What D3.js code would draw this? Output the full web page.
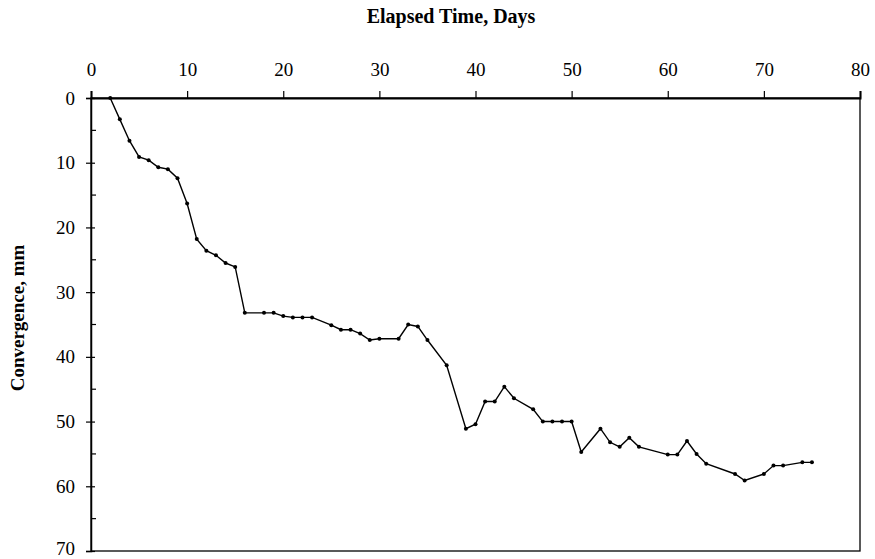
<!DOCTYPE html>
<html><head><meta charset="utf-8">
<script src="https://cdn.jsdelivr.net/npm/d3@7"></script>
<style>body{margin:0;background:#fff}svg{display:block}</style>
</head><body>
<script>
const days = [2,3,4,5,6,7,8,9,10,11,12,13,14,15,16,18,19,20,21,22,23,25,26,27,28,29,30,32,33,34,35,37,39,40,41,42,43,44,46,47,48,49,50,51,53,54,55,56,57,60,61,62,63,64,67,68,70,71,72,74,75];
const convergence = [0,3.3,6.6,9.1,9.6,10.7,11.0,12.4,16.3,21.8,23.6,24.3,25.5,26.1,33.2,33.2,33.2,33.7,33.9,33.9,33.9,35.1,35.8,35.8,36.4,37.4,37.2,37.2,35.0,35.3,37.4,41.3,51.1,50.4,46.9,46.9,44.6,46.4,48.1,50.0,50.0,50.0,50.0,54.7,51.1,53.2,53.9,52.5,53.9,55.1,55.1,53.0,55.0,56.5,58.1,59.1,58.1,56.8,56.8,56.3,56.3];
const xTicks = [0,10,20,30,40,50,60,70,80];
const yTicks = [0,10,20,30,40,50,60,70];
const yMinor = [5,15,25,35,45,55,65];
const xTitle = "Elapsed Time, Days";
const yTitle = "Convergence, mm";

const W = 875, H = 559;
const L = 91, R = 860, T = 98, B = 551;
const svg = d3.select("body").append("svg").attr("width", W).attr("height", H);
const x = d3.scaleLinear().domain([0,80]).range([L,R]);
const y = d3.scaleLinear().domain([0,70]).range([T,B]);
const font = "'Liberation Serif','Times New Roman',serif";

// plot frame
svg.append("rect").attr("x",L).attr("y",T).attr("width",R-L).attr("height",B-T)
  .attr("fill","none").attr("stroke","#000").attr("stroke-width",1.3);

// top axis
const gx = svg.append("g").attr("transform",`translate(0,${T})`)
  .call(d3.axisTop(x).tickValues(xTicks).tickSize(7).tickPadding(15).tickFormat(d3.format("d")));
gx.select(".domain").attr("stroke-width",2);
gx.selectAll(".tick line").attr("stroke-width",1.2);
gx.selectAll(".tick text").attr("font-family",font).attr("font-size",19).attr("fill","#000");

// left axis
const gy = svg.append("g").attr("transform",`translate(${L},0)`)
  .call(d3.axisLeft(y).tickValues(yTicks).tickSize(5).tickPadding(11).tickFormat(d3.format("d")));
gy.select(".domain").attr("stroke-width",1.5);
gy.selectAll(".tick line").attr("x2",4).attr("x1",-5).attr("stroke-width",1.2);
gy.selectAll(".tick text").attr("font-family",font).attr("font-size",19).attr("fill","#000")
  .attr("dy", d => d === 70 ? "0.2em" : "0.32em");
svg.append("g").selectAll("line").data(yMinor).join("line")
  .attr("x1",L).attr("x2",L+5).attr("y1",d=>y(d)).attr("y2",d=>y(d))
  .attr("stroke","#000").attr("stroke-width",1.2);

// titles
svg.append("text").attr("x",451).attr("y",23).attr("text-anchor","middle")
  .attr("font-family",font).attr("font-weight","bold").attr("font-size",20).text(xTitle);
svg.append("text").attr("transform",`translate(24,318) rotate(-90)`).attr("text-anchor","middle")
  .attr("font-family",font).attr("font-weight","bold").attr("font-size",19).text(yTitle);

// data
const pts = days.map((d,i)=>[d,convergence[i]]);
svg.append("path").datum(pts)
  .attr("d", d3.line().x(d=>x(d[0])).y(d=>y(d[1])))
  .attr("fill","none").attr("stroke","#000").attr("stroke-width",1.4);
svg.append("g").selectAll("circle").data(pts).join("circle")
  .attr("cx",d=>x(d[0])).attr("cy",d=>y(d[1])).attr("r",2).attr("fill","#000");
</script>
</body></html>
